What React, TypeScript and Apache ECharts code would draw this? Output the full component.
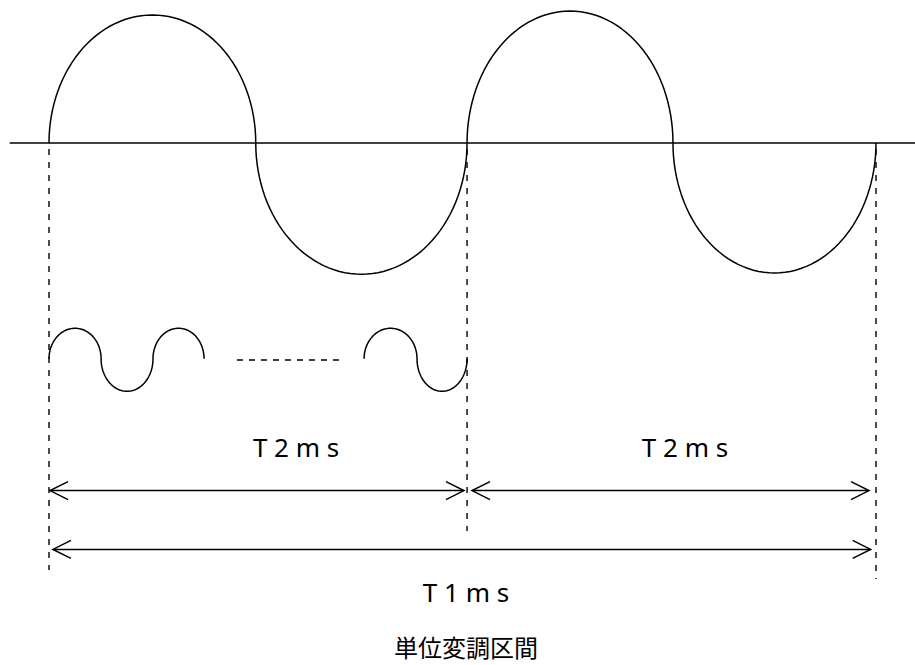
import React, { useEffect, useRef } from "react";
import * as echarts from "echarts";

// x: time in units of the carrier half-period (0 = start of the unit interval)
// y: amplitude in units of the carrier amplitude (0 = baseline)
const X_RANGE = [-0.237, 4.1886];
const Y_RANGE = [-4.0154, 1.1];

const BASELINE_X = [-0.19, 4.19];

// [start, end, peak] of each half wave of the carrier
const BIG_HALF_WAVES = [
  [0, 1.0, 0.985],
  [1.0, 2.022, -1.01],
  [2.022, 3.018, 1.015],
  [3.018, 4.0, -1.0],
];

// small (sub) waves: centre level and groups of half waves
const SMALL_CENTER = -1.66;
const SMALL_GROUP_A = [
  [0, 0.252, 0.235],
  [0.252, 0.503, -0.25],
  [0.503, 0.75, 0.235],
];
const SMALL_GROUP_B = [
  [1.524, 1.78, 0.235],
  [1.78, 2.022, -0.25],
];
const ELLIPSIS_X = [0.909, 1.403];
const ELLIPSIS_Y = -1.669;

// dashed guide lines: [x, yTop, yBottom]
const GUIDES = [
  [0, 0, -3.285],
  [2.022, 0, -2.985],
  [4.0, 0, -3.354],
];

// dimension arrows: [xStart, xEnd, y]
const ARROWS = [
  [0.005, 2.007, -2.674],
  [2.046, 3.966, -2.674],
  [0.019, 3.974, -3.126],
];

const LABELS = ["T 2 m s", "T 2 m s", "T 1 m s"];
const LABEL_X = [1.195, 3.076, 2.017];
const LABEL_Y = [-2.338, -2.338, -3.454];

const TITLE = "単位変調区間";
const TITLE_X = 2.017;
const TITLE_Y = -3.872;

function halfWavesToPoints(halves: number[][], base: number): number[][] {
  const pts: number[][] = [];
  const N = 60;
  halves.forEach((h, hi) => {
    const [x0, x1, peak] = h;
    const xc = (x0 + x1) / 2;
    const a = (x1 - x0) / 2;
    for (let k = hi === 0 ? 0 : 1; k <= N; k++) {
      const phi = (Math.PI * k) / N;
      pts.push([xc - a * Math.cos(phi), base + peak * Math.sin(phi)]);
    }
  });
  return pts;
}

export default function App() {
  const ref = useRef<HTMLDivElement>(null);
  useEffect(() => {
    if (!ref.current) return;
    const chart = echarts.init(ref.current, undefined, { renderer: "svg" });
    const lineStyle = { color: "#000", width: 1.5 };
    const lineBase = {
      type: "line",
      showSymbol: false,
      symbol: "none",
      silent: true,
      clip: false,
      smooth: false,
    };
    chart.setOption({
      animation: false,
      backgroundColor: "#fff",
      grid: { left: 0, right: 0, top: 0, bottom: 0, containLabel: false },
      xAxis: { type: "value", min: X_RANGE[0], max: X_RANGE[1], show: false },
      yAxis: { type: "value", min: Y_RANGE[0], max: Y_RANGE[1], show: false },
      series: [
        {
          ...lineBase,
          data: BASELINE_X.map((x) => [x, 0]),
          lineStyle,
        },
        {
          ...lineBase,
          data: halfWavesToPoints(BIG_HALF_WAVES, 0),
          lineStyle,
        },
        {
          ...lineBase,
          data: halfWavesToPoints(SMALL_GROUP_A, SMALL_CENTER),
          lineStyle,
        },
        {
          ...lineBase,
          data: halfWavesToPoints(SMALL_GROUP_B, SMALL_CENTER),
          lineStyle,
        },
        {
          ...lineBase,
          data: ELLIPSIS_X.map((x) => [x, ELLIPSIS_Y]),
          lineStyle: { ...lineStyle, type: [6, 6] },
        },
        {
          type: "custom",
          silent: true,
          data: GUIDES,
          renderItem: (params: any, api: any) => {
            const a = api.coord([api.value(0), api.value(1)]);
            const b = api.coord([api.value(0), api.value(2)]);
            return {
              type: "line",
              shape: { x1: a[0], y1: a[1] + 6, x2: b[0], y2: b[1] },
              style: { stroke: "#000", lineWidth: 1.4, lineDash: [6, 7] },
            };
          },
        },
        {
          type: "custom",
          silent: true,
          data: ARROWS,
          renderItem: (params: any, api: any) => {
            const a = api.coord([api.value(0), api.value(2)]);
            const b = api.coord([api.value(1), api.value(2)]);
            const L = 18;
            const H = 9;
            const st = { stroke: "#000", lineWidth: 1.5, fill: null };
            return {
              type: "group",
              children: [
                { type: "line", shape: { x1: a[0], y1: a[1], x2: b[0], y2: b[1] }, style: st },
                {
                  type: "polyline",
                  shape: { points: [[a[0] + L, a[1] - H], [a[0], a[1]], [a[0] + L, a[1] + H]] },
                  style: st,
                },
                {
                  type: "polyline",
                  shape: { points: [[b[0] - L, b[1] - H], [b[0], b[1]], [b[0] - L, b[1] + H]] },
                  style: st,
                },
              ],
            };
          },
        },
        {
          type: "custom",
          silent: true,
          data: LABELS.map((_, i) => [LABEL_X[i], LABEL_Y[i]]),
          renderItem: (params: any, api: any) => {
            const p = api.coord([api.value(0), api.value(1)]);
            return {
              type: "text",
              x: p[0],
              y: p[1],
              style: {
                text: LABELS[params.dataIndex],
                fill: "#000",
                fontSize: 26,
                lineHeight: 30,
                fontFamily: "'Noto Sans', sans-serif",
                align: "center",
                verticalAlign: "middle",
              },
            };
          },
        },
        {
          type: "custom",
          silent: true,
          data: [[TITLE_X, TITLE_Y]],
          renderItem: (params: any, api: any) => {
            const p = api.coord([api.value(0), api.value(1)]);
            return {
              type: "text",
              x: p[0],
              y: p[1],
              style: {
                text: TITLE,
                fill: "#000",
                fontSize: 24,
                lineHeight: 26,
                fontFamily: "'Noto Sans CJK JP', sans-serif",
                align: "center",
                verticalAlign: "middle",
              },
            };
          },
        },
      ],
    });
    return () => chart.dispose();
  }, []);
  return (
    <div
      ref={ref}
      style={{ position: "absolute", left: 0, top: 0, width: 915, height: 665 }}
    />
  );
}
